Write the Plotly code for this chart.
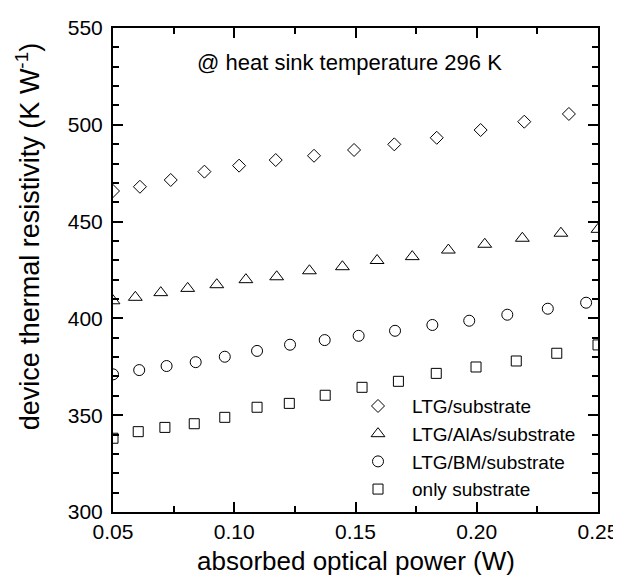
import plotly.graph_objects as go

# LTG/substrate (diamonds)
p_diamond = [0.050, 0.0611, 0.0738, 0.0877, 0.1020, 0.1171, 0.1329, 0.1494, 0.1660, 0.1835, 0.2016, 0.2196, 0.2380]
r_diamond = [465.8, 468.0, 471.5, 475.8, 478.9, 481.8, 484.0, 487.0, 489.9, 493.3, 497.3, 501.6, 505.6]

# LTG/AlAs/substrate (triangles)
p_triangle = [0.050, 0.0592, 0.0697, 0.0808, 0.0928, 0.1048, 0.1175, 0.1310, 0.1446, 0.1589, 0.1734, 0.1883, 0.2033, 0.2188, 0.2347, 0.2500]
r_triangle = [409.1, 410.9, 413.3, 415.5, 417.4, 420.0, 421.5, 424.6, 426.7, 429.9, 431.9, 435.3, 438.3, 441.4, 444.0, 446.0]

# LTG/BM/substrate (circles)
p_circle = [0.050, 0.0608, 0.0721, 0.0841, 0.0961, 0.1094, 0.1230, 0.1373, 0.1513, 0.1663, 0.1817, 0.1969, 0.2126, 0.2293, 0.2451]
r_circle = [371.1, 373.3, 375.4, 377.4, 380.2, 383.2, 386.4, 388.8, 391.0, 393.6, 396.6, 398.8, 401.9, 405.0, 408.1]

# only substrate (squares)
p_square = [0.050, 0.0604, 0.0714, 0.0835, 0.0961, 0.1094, 0.1227, 0.1375, 0.1527, 0.1677, 0.1833, 0.1997, 0.2163, 0.2330, 0.2500]
r_square = [338.1, 341.5, 343.7, 345.6, 348.9, 354.1, 356.1, 360.3, 364.4, 367.5, 371.6, 374.9, 378.0, 382.0, 386.3]

series_names = ["LTG/substrate", "LTG/AlAs/substrate", "LTG/BM/substrate", "only substrate"]
x_tick_vals = [0.05, 0.10, 0.15, 0.20, 0.25]
x_tick_text = ["0.05", "0.10", "0.15", "0.20", "0.25"]
y_tick_vals = [300, 350, 400, 450, 500, 550]

FONT = "Arial, Liberation Sans, sans-serif"

fig = go.Figure()
specs = [
    (p_diamond, r_diamond, "diamond-open", 10),
    (p_triangle, r_triangle, "triangle-up-open", 12),
    (p_circle, r_circle, "circle-open", 11),
    (p_square, r_square, "square-open", 10),
]
for name, (xs, ys, sym, sz) in zip(series_names, specs):
    fig.add_trace(go.Scatter(
        x=xs, y=ys, mode="markers", name=name,
        marker=dict(symbol=sym, size=sz, color="black", line=dict(color="black", width=1)),
        cliponaxis=True,
    ))

axis_common = dict(
    showline=True, linecolor="black", linewidth=2, mirror="ticks",
    ticks="inside", tickcolor="black", tickwidth=1.5, ticklen=10,
    showgrid=False, zeroline=False, automargin=False,
    tickfont=dict(family=FONT, size=21, color="black"),
)

fig.update_xaxes(
    range=[0.05, 0.25], tickvals=x_tick_vals, ticktext=x_tick_text,
    minor=dict(ticks="inside", ticklen=6, tickwidth=1.5, tickcolor="black", dtick=0.025, tick0=0.05),
    **axis_common,
)
fig.update_yaxes(
    range=[300, 550], tickvals=y_tick_vals,
    minor=dict(ticks="inside", ticklen=6, tickwidth=1.5, tickcolor="black", dtick=10, tick0=300),
    ticklabelstandoff=4,
    **axis_common,
)

# axis titles as annotations (paper coords)
fig.add_annotation(
    x=-0.175, y=0.568, xref="paper", yref="paper",
    text="device thermal resistivity (K W<sup>-1</sup>)", textangle=-90,
    showarrow=False, xanchor="center", yanchor="middle",
    font=dict(family=FONT, size=27, color="black"),
)
fig.add_annotation(
    x=0.5, y=-0.101, xref="paper", yref="paper",
    text="absorbed optical power (W)", showarrow=False,
    xanchor="center", yanchor="middle",
    font=dict(family=FONT, size=26, color="black"),
)
fig.add_annotation(
    x=0.4866, y=0.928, xref="paper", yref="paper",
    text="@ heat sink temperature 296 K", showarrow=False,
    xanchor="center", yanchor="middle",
    font=dict(family=FONT, size=22, color="black"),
)

# page body has an 8px default margin; size the figure so it fits the 621x579 window
fig.update_layout(
    template="none",
    width=613, height=571,
    margin=dict(l=105, r=23, t=20, b=67),
    plot_bgcolor="white", paper_bgcolor="white",
    showlegend=True,
    legend=dict(
        x=0.4763, y=0.258, xanchor="left", yanchor="top",
        bgcolor="rgba(0,0,0,0)", borderwidth=0, itemwidth=58,
        font=dict(family=FONT, size=19, color="black"),
        tracegroupgap=0,
    ),
)

fig.write_html("out.html")
